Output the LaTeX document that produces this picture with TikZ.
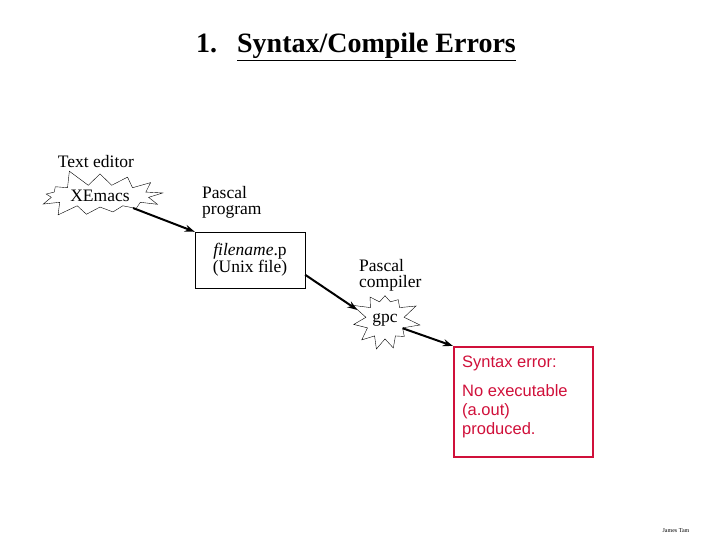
\documentclass[tikz,border=0pt]{standalone}
\usepackage{fontspec}
\setmainfont{Liberation Serif}
\setsansfont{Liberation Sans}
\usetikzlibrary{arrows.meta,positioning,shapes.symbols}
\definecolor{errred}{HTML}{D0103A}

\begin{document}
\begin{tikzpicture}[
  x=1pt,y=-1pt,
  lbl/.style={align=left,font=\fontsize{17.5}{16}\selectfont,inner sep=0pt,anchor=north west},
  burst/.style={starburst,draw,thin,font=\fontsize{17.5}{16}\selectfont,inner sep=1pt},
  filebox/.style={draw,thin,minimum width=110pt,minimum height=56pt,align=center,font=\fontsize{17.5}{16}\selectfont},
  errbox/.style={draw=errred,line width=2pt,minimum width=139pt,minimum height=110pt},
  arr/.style={-{Stealth[length=10pt,width=7pt]},line width=2pt}
]
\useasboundingbox (0,0) rectangle (720,540);
% title
\node[font=\bfseries\fontsize{28}{28}\selectfont] (title) at (356,47) {1.\hspace{20pt}\underline{Syntax/Compile Errors}};
% editor
\node[font=\fontsize{17.5}{16}\selectfont] (editorlabel) at (96,162) {Text editor};
\node[burst,minimum width=134pt,minimum height=48pt,inner ysep=2pt,starburst points=13,starburst point height=18pt,random starburst=5] (xemacs) at (100,196) {XEmacs};
% program file
\node[lbl] (proglabel) at (202,186) {Pascal\\program};
\node[filebox] (progfile) at (250,260) {\textit{filename}.p\\(Unix file)};
% compiler
\node[lbl] (complabel) at (359,259) {Pascal\\compiler};
\node[burst,minimum width=70pt,minimum height=54pt,inner ysep=7pt,starburst points=11,starburst point height=17pt,random starburst=3] (gpc) at (385,320) {gpc};
% result
\node[errbox] (err) at (523.5,402) {};
\node[font=\sffamily\fontsize{16.5}{19}\selectfont,text=errred,align=left,anchor=north west,inner sep=0pt] (errtext) at (462,356) {Syntax error:\\[10pt]No executable\\(a.out)\\produced.};
\node[font=\fontsize{6}{6}\selectfont] (author) at (676,531) {James Tam};
% arrows
\draw[arr] (xemacs.-20) -- (progfile.north west);
\draw[arr] (progfile.-15) -- (gpc.160);
\draw[arr] (gpc.-25) -- (err.north west);
\end{tikzpicture}
\end{document}
